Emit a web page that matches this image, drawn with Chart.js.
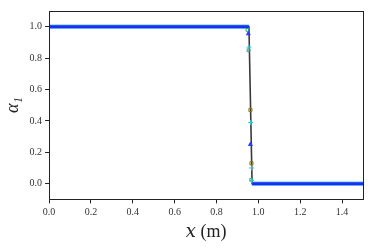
<!DOCTYPE html>
<html>
<head>
<meta charset="utf-8">
<script src="https://cdn.jsdelivr.net/npm/chart.js@4/dist/chart.umd.min.js"></script>
<style>
  html, body { margin:0; padding:0; background:#fff; }
  #wrap { width:374px; height:249px; }
</style>
</head>
<body>
<div id="wrap"><canvas id="c"></canvas></div>
<script>
// --- data ---
const xTicks = [0.0, 0.2, 0.4, 0.6, 0.8, 1.0, 1.2, 1.4];
const yTicks = [0.0, 0.2, 0.4, 0.6, 0.8, 1.0];

// exact solution (black)
const exactX = [0.0, 0.955, 0.970, 1.5];
const exactY = [1.0, 1.0, 0.0, 0.0];

// thick blue band (dense numerical points)
const bandX = [0.0, 0.955, null, 0.970, 1.5];
const bandY = [1.0, 1.0, null, 0.0, 0.0];

// markers inside the jump
const triX = [0.952, 0.962];
const triY = [0.955, 0.25];
const crossX = [0.955, 0.963, 0.967, 0.968];
const crossY = [0.87, 0.39, 0.10, 0.02];
const oliveX = [0.962, 0.967];
const oliveY = [0.47, 0.13];
const greenX = [0.948, 0.953, 0.966];
const greenY = [0.98, 0.85, 0.025];

const pts = (xs, ys) => xs.map((x, i) => x == null ? {x: null, y: null} : {x, y: ys[i]});

const serif = "'Liberation Serif', 'DejaVu Serif', serif";

const frame = {
  id: 'frame',
  afterDraw(chart) {
    const a = chart.chartArea, ctx = chart.ctx;
    ctx.save();
    ctx.strokeStyle = '#222';
    ctx.lineWidth = 1;
    ctx.strokeRect(Math.round(a.left) + 0.5, Math.round(a.top) + 0.5,
                   Math.round(a.right - a.left), Math.round(a.bottom - a.top));
    ctx.restore();
  }
};

new Chart(document.getElementById('c'), {
  type: 'scatter',
  data: {
    datasets: [
      { data: pts(exactX, exactY), showLine: true, borderColor: '#3a3a3a',
        borderWidth: 1.6, pointRadius: 0, order: 4 },
      { data: pts(bandX, bandY), showLine: true, spanGaps: false, borderColor: '#5cc8ee',
        borderWidth: 4.2, pointRadius: 0, order: 3 },
      { data: pts(bandX, bandY), showLine: true, spanGaps: false, borderColor: '#1b2ff0',
        borderWidth: 3, pointRadius: 0, order: 2 },
      { data: pts(triX, triY), pointStyle: 'triangle', pointRadius: 2.2,
        backgroundColor: '#2a3cf5', borderColor: '#2a3cf5', order: 1 },
      { data: pts(crossX, crossY), pointStyle: 'cross', pointRadius: 2.5,
        borderColor: '#33c6d8', borderWidth: 1, order: 1 },
      { data: pts(oliveX, oliveY), pointStyle: 'rect', pointRadius: 2.2,
        backgroundColor: 'rgba(0,0,0,0)', borderColor: '#8a7a1a', borderWidth: 1, order: 1 },
      { data: pts(greenX, greenY), pointStyle: 'rect', pointRadius: 2,
        backgroundColor: 'rgba(0,0,0,0)', borderColor: '#2aa37a', borderWidth: 1, order: 1 }
    ]
  },
  options: {
    responsive: true, maintainAspectRatio: false, animation: false,
    layout: { padding: { top: 11, right: 11, left: 2, bottom: 0 } },
    plugins: { legend: { display: false }, tooltip: { enabled: false } },
    scales: {
      x: {
        type: 'linear', min: 0, max: 1.5,
        afterBuildTicks: s => { s.ticks = xTicks.map(v => ({ value: v })); },
        grid: { drawOnChartArea: false, tickLength: 4, color: '#222' },
        border: { color: '#222' },
        ticks: { color: '#333', font: { family: serif, size: 10 }, padding: 3,
                 maxRotation: 0, callback: v => v.toFixed(1) },
        title: { display: true, text: '𝑥 (m)', color: '#222',
                 font: { family: serif, size: 18 }, padding: { top: 0, bottom: 6 } }
      },
      y: {
        type: 'linear', min: -0.1, max: 1.1,
        afterBuildTicks: s => { s.ticks = yTicks.map(v => ({ value: v })); },
        grid: { drawOnChartArea: false, tickLength: 4, color: '#222' },
        border: { color: '#222' },
        ticks: { color: '#333', font: { family: serif, size: 10 }, padding: 3,
                 callback: v => v.toFixed(1) },
        title: { display: true, text: 'α₁', color: '#222',
                 font: { family: serif, size: 18, style: 'italic' }, padding: { top: 0, bottom: 3 } }
      }
    }
  },
  plugins: [frame]
});
</script>
</body>
</html>
